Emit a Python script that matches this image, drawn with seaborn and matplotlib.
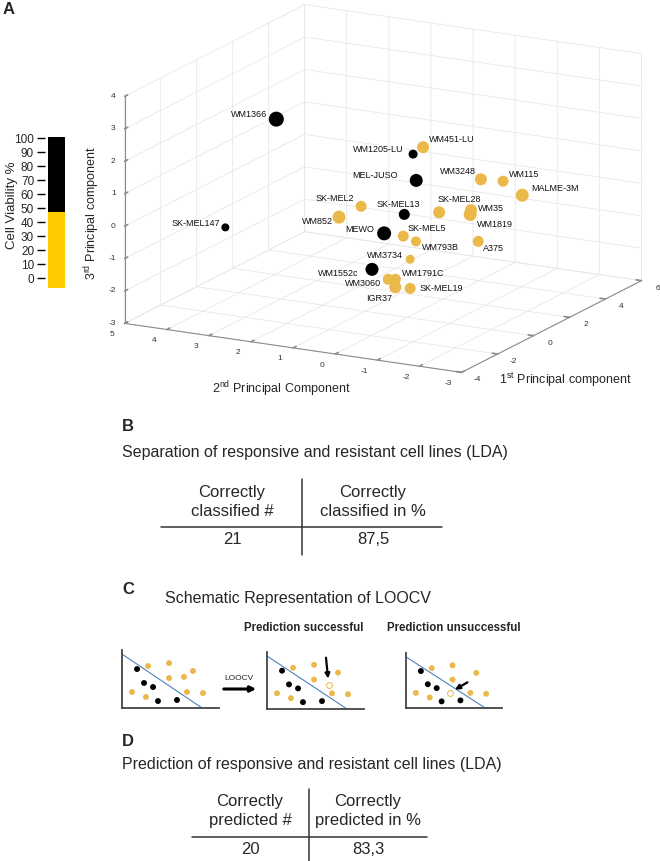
import numpy as np
import matplotlib
matplotlib.use("Agg")
import matplotlib.pyplot as plt
import seaborn as sns
from matplotlib.colors import ListedColormap, BoundaryNorm
from matplotlib.cm import ScalarMappable
from matplotlib.lines import Line2D
from matplotlib.patches import FancyArrowPatch
from mpl_toolkits.mplot3d import proj3d

# ---- data -------------------------------------------------------------
cell_lines = ["WM1366", "SK-MEL147", "WM451-LU", "WM1205-LU", "MEL-JUSO", "WM3248",
              "WM115", "MALME-3M", "SK-MEL2", "WM852", "SK-MEL13", "SK-MEL28",
              "WM35", "WM1819", "MEWO", "SK-MEL5", "WM793B", "A375", "WM3734",
              "WM1552c", "WM1791C", "WM3060", "IGR37", "SK-MEL19"]
pc1 = [0.12, -1.19, 1.75, 1.59, 1.46, 2.27, 2.52, 2.67, 0.62, 0.28, 1.10, 1.54,
       1.95, 1.91, 0.73, 0.95, 1.07, 1.84, 0.89, 0.36, 0.58, 0.49, 0.53, 0.70]
pc2 = [3.16, 3.81, 0.37, 0.54, 0.41, -0.78, -1.20, -1.59, 1.36, 1.74, 0.54, -0.10,
       -0.68, -0.68, 0.86, 0.50, 0.25, -0.90, 0.31, 0.99, 0.53, 0.66, 0.51, 0.23]
pc3 = [2.48, -0.61, 1.68, 1.48, 0.73, 0.76, 0.71, 0.31, -0.01, -0.32, -0.24, -0.18,
       -0.12, -0.24, -0.78, -0.86, -1.01, -1.01, -1.52, -1.81, -2.09, -2.09, -2.32, -2.35]
response = ["resistant", "resistant", "responsive", "resistant", "resistant", "responsive",
            "responsive", "responsive", "responsive", "responsive", "resistant", "responsive",
            "responsive", "responsive", "resistant", "responsive", "responsive", "responsive",
            "responsive", "resistant", "responsive", "responsive", "responsive", "responsive"]
dot_diam = [15, 8, 12, 9, 13, 12, 11, 13, 11, 13, 11, 12,
            12, 13, 14, 11, 10, 11, 9, 13, 11, 11, 12, 11]

pc1_ticks = list(range(-4, 7, 2))
pc2_ticks = list(range(-3, 6))
pc3_ticks = list(range(-3, 5))

viability_ticks = list(range(0, 101, 10))
viability_bounds = [-7, 47, 101]

table_b_head = ["Correctly\nclassified #", "Correctly\nclassified in %"]
table_b_vals = ["21", "87,5"]
table_d_head = ["Correctly\npredicted #", "Correctly\npredicted in %"]
table_d_vals = ["20", "83,3"]

# LOOCV schematic points
schem_x = [1.55, 2.27, 3.20, 3.71, 5.67, 2.68, 4.85, 4.85, 7.32, 1.03, 2.47, 6.70, 8.35]
schem_y = [4.03, 2.59, 2.17, 0.72, 0.83, 4.34, 4.65, 3.10, 3.83, 1.65, 1.14, 1.65, 1.55]
schem_group = ["resistant"] * 5 + ["responsive"] * 8
left_out = (6.39, 3.21)
predicted = [None, (6.39, 2.50), (4.54, 1.65)]
boundary_x = [0, 8.25]
boundary_y = [5.58, 0]

# ---- style ------------------------------------------------------------
sns.set_theme(style="white")
plt.rcParams["font.family"] = ["Liberation Sans", "DejaVu Sans"]
plt.rcParams["mathtext.fontset"] = "custom"
plt.rcParams["mathtext.rm"] = "Liberation Sans"
plt.rcParams["mathtext.it"] = "Liberation Sans:italic"
plt.rcParams["mathtext.bf"] = "Liberation Sans:bold"
plt.rcParams["axes.unicode_minus"] = False
plt.rcParams["grid.color"] = "#e8e8e8"
plt.rcParams["grid.linewidth"] = 0.6

YEL = "#EBB84A"
palette = {"responsive": YEL, "resistant": "black"}

W, H = 660, 861
fig = plt.figure(figsize=(W / 100, H / 100), dpi=100)


def fx(x):
    return x / W


def fy(y):
    return 1 - y / H


def pbox(l, t, w, h):
    return [l / W, 1 - (t + h) / H, w / W, h / H]


# ---- A: 3D PCA --------------------------------------------------------
ax = fig.add_axes([0.1, 0.5, 0.8, 0.5], projection="3d", proj_type="ortho")
ax.set_facecolor("none")
ax.view_init(elev=15.8, azim=-151.9)
ax.set_box_aspect((382, 382, 236))
ax.set_xlim(-4, 6)
ax.set_ylim(-3, 5)
ax.set_zlim(-3, 4)
ax.set_xticks(pc1_ticks)
ax.set_yticks(pc2_ticks)
ax.set_zticks(pc3_ticks)
ax.set_xticklabels([])
ax.set_yticklabels([])
ax.set_zticklabels([])
for a in (ax.xaxis, ax.yaxis, ax.zaxis):
    a.set_pane_color((1, 1, 1, 0))
    a.pane.set_edgecolor("#e8e8e8")
    a.line.set_color("#8c8c8c")
    a.line.set_linewidth(0.8)
    a._axinfo["grid"].update(color="#e8e8e8", linewidth=0.6)
    a._axinfo["tick"].update(inward_factor=0.0, outward_factor=0.2)
ax.tick_params(axis="both", colors="#8c8c8c")
ax.tick_params(axis="z", colors="#8c8c8c")
ax.grid(True)

colors = [palette[r] for r in response]
sizes = [(d * 0.72) ** 2 for d in dot_diam]
ax.scatter(pc1, pc2, pc3, c=colors, s=sizes, depthshade=False, edgecolors="none", alpha=1)

# fit projected box onto the reference frame
fig.canvas.draw()
corners = np.array([(a, b, c) for a in (-4, 6) for b in (-3, 5) for c in (-3, 4)], float)
px, py, _ = proj3d.proj_transform(corners[:, 0], corners[:, 1], corners[:, 2], ax.get_proj())
d = ax.transData.transform(np.column_stack([px, py]))
x0, x1, y0, y1 = d[:, 0].min(), d[:, 0].max(), d[:, 1].min(), d[:, 1].max()
tx0, tx1, ty0, ty1 = 124.7, 641.5, H - 372, H - 5
k = (tx1 - tx0) / (x1 - x0)
bb = ax.get_position()
acx, acy = (bb.x0 + bb.x1) / 2 * W, (bb.y0 + bb.y1) / 2 * H
ncx = (tx0 + tx1) / 2 - k * ((x0 + x1) / 2 - acx)
ncy = (ty0 + ty1) / 2 - k * ((y0 + y1) / 2 - acy)
nw, nh = bb.width * W * k, bb.height * H * k
ax.set_position([(ncx - nw / 2) / W, (ncy - nh / 2) / H, nw / W, nh / H])
fig.canvas.draw()


def to_px(x, y, z):
    a, b, _ = proj3d.proj_transform(np.atleast_1d(x), np.atleast_1d(y), np.atleast_1d(z),
                                    ax.get_proj())
    return ax.transData.transform(np.column_stack([a, b]))[0]


def text_at(x, y, z, s, dx, dy, **kw):
    X, Y = to_px(x, y, z)
    fig.text((X + dx) / W, (Y + dy) / H, s, **kw)


# tick labels along the box edges
tick_kw = dict(fontsize=6, color="#333333", va="center")
for t in pc3_ticks:
    text_at(-4, 5, t, str(t), -9, 0, ha="right", **tick_kw)
for t in pc2_ticks:
    text_at(-4, t, -3, str(t), -13, -11, ha="center", **tick_kw)
for t in pc1_ticks:
    text_at(t, -3, -3, str(t), 16, -7.5, ha="center", **tick_kw)

label_pos = {
    "WM1366": (-9, 5, "right"), "SK-MEL147": (-5, 4, "right"), "WM451-LU": (6, 8, "left"),
    "WM1205-LU": (-10, 5, "right"), "MEL-JUSO": (-18, 5, "right"), "WM3248": (-5, 8, "right"),
    "WM115": (6, 7, "left"), "MALME-3M": (9, 7, "left"), "SK-MEL2": (-7, 8, "right"),
    "WM852": (-6, -4, "right"), "SK-MEL13": (-6, 10, "center"), "SK-MEL28": (-2, 13, "left"),
    "WM35": (7, 2, "left"), "WM1819": (7, -10, "left"), "MEWO": (-10, 4, "right"),
    "SK-MEL5": (4, 8, "left"), "WM793B": (6, -6, "left"), "A375": (5, -7, "left"),
    "WM3734": (-7, 4, "right"), "WM1552c": (-14, -4, "right"), "WM1791C": (7, 6, "left"),
    "WM3060": (-7, -4, "right"), "IGR37": (-3, -11, "right"), "SK-MEL19": (9, 0, "left"),
}
for name, x, y, z in zip(cell_lines, pc1, pc2, pc3):
    dx, dy, ha = label_pos[name]
    text_at(x, y, z, name, dx, dy, fontsize=6.5, color="#111111", ha=ha, va="center")

fig.text(fx(281), fy(389), r"2$^{\rm nd}$ Principal Component", fontsize=9, ha="center", va="center")
fig.text(fx(565), fy(380), r"1$^{\rm st}$ Principal component", fontsize=9, ha="center", va="center")
fig.text(fx(92), fy(213), r"3$^{\rm rd}$ Principal component", fontsize=9, ha="center",
         va="center", rotation=90)

# colour bar
cax = fig.add_axes(pbox(48, 137, 17, 151))
cmap = ListedColormap(["#FFCC00", "black"])
norm = BoundaryNorm(viability_bounds, cmap.N)
cb = fig.colorbar(ScalarMappable(norm=norm, cmap=cmap), cax=cax, spacing="proportional",
                  ticks=viability_ticks)
cb.outline.set_visible(False)
cb.minorticks_off()
cax.yaxis.set_ticks_position("left")
cax.spines["left"].set_position(("outward", 2.5))
cax.tick_params(which="major", length=5.5, width=1, labelsize=8.5, pad=2, color="black")
cax.tick_params(which="minor", length=0)
fig.text(fx(12), fy(205), "Cell Viability %", fontsize=9.5, rotation=90, ha="center", va="center")

# ---- panel letters and titles ----------------------------------------
for letter, (x, y) in {"A": (9, 9), "B": (128, 427), "C": (128, 590), "D": (128, 742)}.items():
    fig.text(fx(x), fy(y), letter, fontsize=12, fontweight="bold", ha="center", va="center")

fig.text(fx(122), fy(452), "Separation of responsive and resistant cell lines (LDA)",
         fontsize=11.5, ha="left", va="center")
fig.text(fx(165), fy(598), "Schematic Representation of LOOCV", fontsize=11.5, ha="left", va="center")
fig.text(fx(122), fy(765), "Prediction of responsive and resistant cell lines (LDA)",
         fontsize=11.5, ha="left", va="center")


# ---- tables ----------------------------------------------------------
def draw_table(heads, vals, cols, head_y, line_y, line_x, val_y, vline_x, vline_y):
    for h, v, cx in zip(heads, vals, cols):
        fig.text(fx(cx), fy(head_y), h, fontsize=12, ha="center", va="center", linespacing=1.3)
        fig.text(fx(cx), fy(val_y), v, fontsize=12, ha="center", va="center")
    fig.add_artist(Line2D([fx(line_x[0]), fx(line_x[1])], [fy(line_y), fy(line_y)],
                          color="#333333", lw=1.1))
    fig.add_artist(Line2D([fx(vline_x), fx(vline_x)], [fy(vline_y[0]), fy(vline_y[1])],
                          color="#333333", lw=1.1))


draw_table(table_b_head, table_b_vals, (232, 373), 502, 527, (161, 442), 539, 302, (479, 555))
draw_table(table_d_head, table_d_vals, (250, 368), 811, 837, (192, 427), 850, 309, (789, 861))

# ---- C: LOOCV schematics ---------------------------------------------
boxes = [(122, 650, 97, 58), (267, 652, 97, 57), (406, 653, 96, 55)]
arrows = [None, ((6.08, 5.4), (6.3, 3.2)), ((6.4, 2.8), (5.1, 2.0))]
for i, (l, t, w, h) in enumerate(boxes):
    sax = fig.add_axes(pbox(l, t, w, h))
    sax.plot(boundary_x, boundary_y, color="#4F81BD", lw=0.8)
    xs, ys, gs = list(schem_x), list(schem_y), list(schem_group)
    if i == 0:
        xs.append(left_out[0]); ys.append(left_out[1]); gs.append("responsive")
    sns.scatterplot(x=xs, y=ys, hue=gs, palette=palette, s=18, edgecolor="none",
                    legend=False, ax=sax)
    if predicted[i] is not None:
        sax.scatter([predicted[i][0]], [predicted[i][1]], s=18, facecolor="white",
                    edgecolor=YEL, linewidth=0.7, zorder=3)
    if arrows[i] is not None:
        sax.annotate("", xy=arrows[i][1], xytext=arrows[i][0],
                     arrowprops=dict(arrowstyle="-|>", color="black", lw=1.6,
                                     mutation_scale=7, shrinkA=0, shrinkB=0))
    sax.set_xlim(0, 10)
    sax.set_ylim(0, 6)
    sax.set_xticks([])
    sax.set_yticks([])
    for sp in ("top", "right"):
        sax.spines[sp].set_visible(False)
    for sp in ("left", "bottom"):
        sax.spines[sp].set_color("#444444")
        sax.spines[sp].set_linewidth(1.3)
    sax.patch.set_alpha(0)

fig.text(fx(304), fy(628), "Prediction successful", fontsize=8.3, fontweight="bold",
         ha="center", va="center")
fig.text(fx(454), fy(628), "Prediction unsuccessful", fontsize=8.3, fontweight="bold",
         ha="center", va="center")
fig.text(fx(239), fy(678), "LOOCV", fontsize=6, ha="center", va="center")
fig.add_artist(FancyArrowPatch((fx(221), fy(689)), (fx(259), fy(689)),
                               transform=fig.transFigure, arrowstyle="-|>",
                               mutation_scale=8, color="black", lw=2.2))

fig.savefig("out.png", dpi=100)
